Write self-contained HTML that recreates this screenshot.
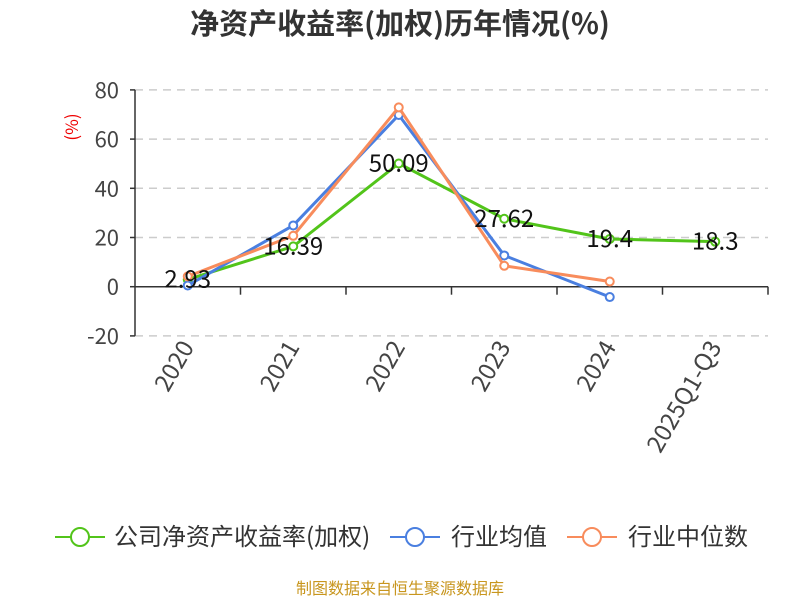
<!DOCTYPE html>
<html><head><meta charset="utf-8"><style>
body{margin:0;background:#fff;}
svg{display:block;font-family:"Noto Sans CJK SC","Liberation Sans",sans-serif;}
</style></head><body>
<svg id="chart" width="800" height="600">
<text x="400" y="34" text-anchor="middle" font-size="29" font-weight="bold" fill="#333">净资产收益率(加权)历年情况(%)</text>
<text x="78" y="127" text-anchor="middle" font-size="17" fill="#e00" transform="rotate(-90 78 127)">(%)</text>
<g id="grid"></g><g id="axes"></g><g id="series"></g>
<g>
<g><line x1="55" y1="537" x2="105" y2="537" stroke="#52c41a" stroke-width="2"/><circle cx="80" cy="537" r="9" fill="#fff" stroke="#52c41a" stroke-width="2"/><text x="114" y="545" font-size="24" fill="#333">公司净资产收益率(加权)</text></g>
<g><line x1="390" y1="537" x2="440" y2="537" stroke="#4a7fe0" stroke-width="2"/><circle cx="415" cy="537" r="9" fill="#fff" stroke="#4a7fe0" stroke-width="2"/><text x="451" y="545" font-size="24" fill="#333">行业均值</text></g>
<g><line x1="567" y1="537" x2="617" y2="537" stroke="#f88c5c" stroke-width="2"/><circle cx="592" cy="537" r="9" fill="#fff" stroke="#f88c5c" stroke-width="2"/><text x="628" y="545" font-size="24" fill="#333">行业中位数</text></g>
</g>
<text x="400" y="594" text-anchor="middle" font-size="16" fill="#c8961e">制图数据来自恒生聚源数据库</text>
</svg>
<script>
const categories=["2020","2021","2022","2023","2024","2025Q1-Q3"];
const companyValues=[2.93,16.39,50.09,27.62,19.4,18.3];
const industryAvg=[0.5,24.9,69.8,12.7,-4.2];
const industryMedian=[4.2,20.7,72.9,8.5,2.1];
const yTicks=[-20,0,20,40,60,80];
const NS="http://www.w3.org/2000/svg";
const x0=135,x1=768,bw=(x1-x0)/categories.length;
const xPos=i=>x0+bw*(i+0.5);
const yPos=v=>286.7-v*(49.2/20);
function mk(tag,attrs,parent){const e=document.createElementNS(NS,tag);for(const k in attrs)e.setAttribute(k,attrs[k]);parent.appendChild(e);return e;}
const grid=document.getElementById('grid'),axes=document.getElementById('axes'),ser=document.getElementById('series');
yTicks.forEach(t=>{
  const y=yPos(t);
  if(t!==0){const l=mk('line',{x1:x0,x2:x1,y1:y,y2:y,stroke:'#ccc','stroke-dasharray':'8,6','stroke-width':1.5},grid);
  
  }
  const tx=mk('text',{x:x0-16,y:y+8,'text-anchor':'end','font-size':22,fill:'#444'},axes);tx.textContent=t;
  
  
  mk('line',{x1:x0-5,x2:x0,y1:y,y2:y,stroke:'#333','stroke-width':1.5},axes);
});
mk('line',{x1:x0,x2:x0,y1:yPos(80),y2:yPos(-20),stroke:'#333','stroke-width':1.5},axes);
const xa=mk('line',{x1:x0,x2:x1,y1:yPos(0),y2:yPos(0),stroke:'#333','stroke-width':1.5},axes);


categories.forEach((c,i)=>{
  const xt=x0+bw*(i+1);
  mk('line',{x1:xt,x2:xt,y1:yPos(0),y2:yPos(0)+8,stroke:'#333','stroke-width':1.5},axes);
  const x=xPos(i)+7,y=347;
  const t=mk('text',{x:x,y:y,'text-anchor':'end','font-size':24,fill:'#444',transform:`rotate(-60 ${x} ${y})`},axes);t.textContent=c;
  
  
});
function drawSeries(vals,color,name){
  const pts=vals.map((v,i)=>xPos(i)+','+yPos(v)).join(' ');
  const pl=mk('polyline',{points:pts,fill:'none',stroke:color,'stroke-width':3,'stroke-linejoin':'round'},ser);
  
  
  vals.forEach((v,i)=>{
    const c=mk('circle',{cx:xPos(i),cy:yPos(v),r:4,fill:'#fff',stroke:color,'stroke-width':2},ser);
    
    
  });
}
drawSeries(companyValues,'#52c41a','company');
drawSeries(industryAvg,'#4a7fe0','industry-avg');
drawSeries(industryMedian,'#f88c5c','industry-median');
companyValues.forEach((v,i)=>{
  const t=mk('text',{x:xPos(i),y:yPos(v)+8,'text-anchor':'middle','font-size':24,fill:'#111'},ser);t.textContent=v;
  
  
});
</script>
</body></html>
